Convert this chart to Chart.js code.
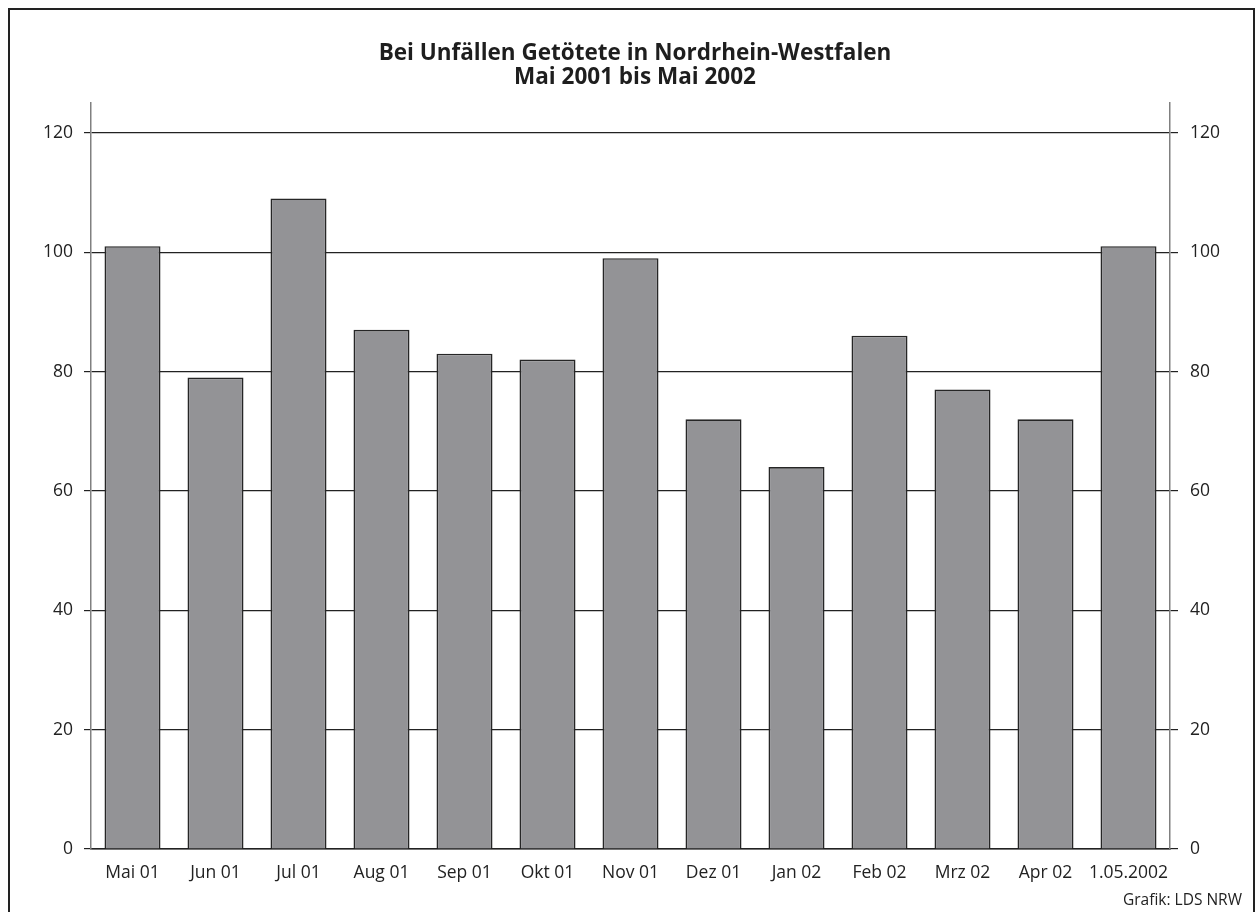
<!DOCTYPE html>
<html>
<head>
<meta charset="utf-8">
<script src="https://cdn.jsdelivr.net/npm/chart.js@4/dist/chart.umd.min.js"></script>
<style>
  html, body { margin: 0; padding: 0; background: #fff; }
  #wrap { position: relative; width: 1256px; height: 912px; overflow: hidden; }
  #frame { position: absolute; left: 8px; top: 8px; width: 1247px; height: 920px; border: 2px solid #222; box-sizing: border-box; pointer-events: none; }
  #src { position: absolute; right: 14px; top: 889px; font: 15.5px "Open Sans", sans-serif; color: #222; line-height: 20px; }
  canvas { position: absolute; left: 0; top: 0; }
</style>
</head>
<body>
<div id="wrap">
  <canvas id="c" width="1256" height="912"></canvas>
  <div id="frame"></div>
  <div id="src">Grafik: LDS NRW</div>
</div>
<script>
const categories = ["Mai 01","Jun 01","Jul 01","Aug 01","Sep 01","Okt 01","Nov 01","Dez 01","Jan 02","Feb 02","Mrz 02","Apr 02","1.05.2002"];
const values = [101, 79, 109, 87, 83, 82, 99, 72, 64, 86, 77, 72, 101];
const titleLines = ["Bei Unfällen Getötete in Nordrhein-Westfalen", "Mai 2001 bis Mai 2002"];
const yTicks = [0, 20, 40, 60, 80, 100, 120];

const FONT = "'Open Sans', sans-serif";

new Chart(document.getElementById('c'), {
  type: 'bar',
  data: {
    labels: categories,
    datasets: [{
      data: values,
      backgroundColor: '#939396',
      borderColor: '#262626',
      borderWidth: 1.6,
      borderSkipped: 'bottom',
      categoryPercentage: 1.0,
      barPercentage: 0.675
    }]
  },
  options: {
    responsive: false,
    animation: false,
    devicePixelRatio: 1,
    layout: { padding: { left: 14, right: 0, top: 0, bottom: 0 } },
    plugins: {
      legend: { display: false },
      tooltip: { enabled: false },
      title: {
        display: true,
        text: titleLines,
        color: '#1e1e1e',
        font: { family: FONT, size: 22.5, weight: 'bold', lineHeight: 1.08 },
        padding: { top: 41, bottom: 13.4 }
      }
    },
    scales: {
      x: {
        grid: { display: false, drawTicks: false },
        border: { display: true, color: '#222', width: 1.5 },
        ticks: { color: '#222', font: { family: FONT, size: 17.5 }, padding: 14, maxRotation: 0, autoSkip: false },
        afterFit: (s) => { s.height = 912 - 849; }
      },
      y: {
        position: 'left',
        min: 0, max: 125,
        afterBuildTicks: (s) => { s.ticks = yTicks.map(v => ({ value: v })); },
        grid: { color: '#222', lineWidth: 1.2, tickLength: 7, drawTicks: true, tickColor: '#222' },
        border: { display: true, color: '#808080', width: 1.5 },
        ticks: { color: '#222', font: { family: FONT, size: 17.5 }, padding: 11 },
        afterFit: (s) => { s.width = 91 - 14; }
      },
      y2: {
        position: 'right',
        min: 0, max: 125,
        afterBuildTicks: (s) => { s.ticks = yTicks.map(v => ({ value: v })); },
        grid: { drawOnChartArea: false, color: '#222', lineWidth: 1.2, tickLength: 8, drawTicks: true },
        border: { display: true, color: '#808080', width: 1.5 },
        ticks: { color: '#222', font: { family: FONT, size: 17.5 }, padding: 12 },
        afterFit: (s) => { s.width = 1256 - 1170; }
      }
    }
  }
});
</script>
</body>
</html>
